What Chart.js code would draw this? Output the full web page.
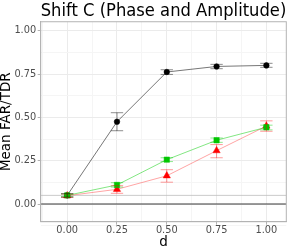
<!DOCTYPE html>
<html>
<head>
<meta charset="utf-8">
<script src="https://cdn.jsdelivr.net/npm/chart.js@4.4.0/dist/chart.umd.min.js"></script>
<style>
  html, body { margin: 0; padding: 0; background: #fff; }
</style>
</head>
<body>
<canvas id="myChart" width="291" height="251"></canvas>
<script>
// values
const dValues = [0, 0.25, 0.5, 0.75, 1];

const blackMean = [0.05, 0.475, 0.762, 0.794, 0.80];
const blackLow  = [0.04, 0.423, 0.748, 0.781, 0.789];
const blackHigh = [0.06, 0.527, 0.775, 0.806, 0.812];

const greenMean = [0.05, 0.11, 0.256, 0.368, 0.443];
const greenLow  = [0.043, 0.098, 0.245, 0.356, 0.428];
const greenHigh = [0.057, 0.123, 0.267, 0.381, 0.455];

const redMean = [0.048, 0.085, 0.163, 0.308, 0.45];
const redLow  = [0.038, 0.062, 0.126, 0.267, 0.42];
const redHigh = [0.058, 0.106, 0.198, 0.343, 0.48];

const xTicks = [0, 0.25, 0.5, 0.75, 1];
const xMinor = [-0.125, 0.125, 0.375, 0.625, 0.875];
const yTicks = [0, 0.25, 0.5, 0.75, 1];
const yMinor = [-0.125, 0.125, 0.375, 0.625, 0.875];

const refLines = [0, 0.05];

const X_MIN = -0.133, X_MAX = 1.1;
const Y_MIN = -0.102, Y_MAX = 1.052;

const FONT = "'DejaVu Sans', Verdana, sans-serif";

const toPoints = (ys) => dValues.map((x, i) => ({ x: x, y: ys[i] }));

const isMajor = (v, list) => list.some(t => Math.abs(t - v) < 1e-9);

// draws error bars from errLow/errHigh arrays through the chart scales
const errorBarPlugin = {
  id: 'errorBars',
  afterDatasetsDraw(chart) {
    const ctx = chart.ctx;
    const xs = chart.scales.x, ys = chart.scales.y;
    chart.data.datasets.forEach(ds => {
      if (!ds.errLow) return;
      ctx.save();
      ctx.strokeStyle = ds.errColor;
      ctx.lineWidth = 1;
      dValues.forEach((d, i) => {
        const px = xs.getPixelForValue(d);
        const x0 = xs.getPixelForValue(d - 0.031);
        const x1 = xs.getPixelForValue(d + 0.031);
        const lo = ys.getPixelForValue(ds.errLow[i]);
        const hi = ys.getPixelForValue(ds.errHigh[i]);
        ctx.beginPath();
        ctx.moveTo(px, lo); ctx.lineTo(px, hi);
        ctx.moveTo(x0, lo); ctx.lineTo(x1, lo);
        ctx.moveTo(x0, hi); ctx.lineTo(x1, hi);
        ctx.stroke();
      });
      ctx.restore();
    });
  }
};

const panelBorder = {
  id: 'panelBorder',
  afterDraw(chart) {
    const a = chart.chartArea;
    const ctx = chart.ctx;
    ctx.save();
    ctx.strokeStyle = '#b3b3b3';
    ctx.lineWidth = 1;
    ctx.strokeRect(a.left, a.top, a.right - a.left, a.bottom - a.top);
    ctx.restore();
  }
};

const seriesStyle = (color, lineColor, errColor, shape, radius) => ({
  borderColor: lineColor,
  borderWidth: 0.9,
  pointStyle: shape,
  pointRadius: radius,
  pointBackgroundColor: color,
  pointBorderColor: color,
  pointBorderWidth: 0.5,
  errColor: errColor,
  tension: 0
});

new Chart(document.getElementById('myChart').getContext('2d'), {
  type: 'line',
  data: {
    datasets: [
      Object.assign({ label: 'green', data: toPoints(greenMean), errLow: greenLow, errHigh: greenHigh },
        seriesStyle('#00c400', 'rgba(0,205,0,0.55)', 'rgba(0,205,0,0.45)', 'rect', 3.8)),
      Object.assign({ label: 'red', data: toPoints(redMean), errLow: redLow, errHigh: redHigh },
        seriesStyle('#ff0000', 'rgba(255,0,0,0.4)', 'rgba(255,0,0,0.4)', 'triangle', 4.2)),
      Object.assign({ label: 'black', data: toPoints(blackMean), errLow: blackLow, errHigh: blackHigh },
        seriesStyle('#000000', 'rgba(0,0,0,0.6)', 'rgba(0,0,0,0.45)', 'circle', 2.8)),
      {
        label: 'zero', data: [{ x: X_MIN, y: refLines[0] }, { x: X_MAX, y: refLines[0] }],
        borderColor: '#3a3a3a', borderWidth: 1.1, pointRadius: 0
      },
      {
        label: 'level', data: [{ x: X_MIN, y: refLines[1] }, { x: X_MAX, y: refLines[1] }],
        borderColor: '#bdbdbd', borderWidth: 0.8, pointRadius: 0
      }
    ]
  },
  options: {
    responsive: false,
    animation: false,
    layout: { padding: { left: 0, right: 3.3, top: 0, bottom: 0 } },
    plugins: {
      legend: { display: false },
      tooltip: { enabled: false },
      title: {
        display: true,
        fullSize: false,
        text: 'Shift C (Phase and Amplitude)',
        color: '#000',
        font: { family: FONT, size: 17.7, weight: 'normal', lineHeight: 1.2 },
        padding: { top: 0.3, bottom: 0.2 }
      }
    },
    scales: {
      x: {
        type: 'linear',
        min: X_MIN,
        max: X_MAX,
        afterBuildTicks: (axis) => {
          axis.ticks = xTicks.concat(xMinor).sort((a, b) => a - b).map(v => ({ value: v }));
        },
        afterFit: (scale) => { scale.height = 29.3; },
        ticks: {
          autoSkip: false,
          maxRotation: 0,
          padding: 0,
          color: '#4d4d4d',
          font: { family: FONT, size: 9.8 },
          callback: (v) => isMajor(v, xTicks) ? v.toFixed(2) : ''
        },
        grid: {
          color: (c) => isMajor(c.tick.value, xTicks) ? '#ebebeb' : '#f5f5f5',
          tickColor: (c) => isMajor(c.tick.value, xTicks) ? '#b3b3b3' : 'rgba(0,0,0,0)',
          tickLength: 3,
          lineWidth: 1
        },
        border: { display: true, color: '#b3b3b3' },
        title: {
          display: true,
          text: 'd',
          color: '#000',
          font: { family: FONT, size: 13.5, lineHeight: 1.2 },
          padding: { top: 0, bottom: 0.5 }
        }
      },
      y: {
        type: 'linear',
        min: Y_MIN,
        max: Y_MAX,
        afterBuildTicks: (axis) => {
          axis.ticks = yTicks.concat(yMinor).sort((a, b) => a - b).map(v => ({ value: v }));
        },
        afterFit: (scale) => { scale.width = 40.7; },
        ticks: {
          autoSkip: false,
          padding: 1.5,
          color: '#4d4d4d',
          font: { family: FONT, size: 9.8 },
          callback: (v) => isMajor(v, yTicks) ? v.toFixed(2) : ''
        },
        grid: {
          color: (c) => isMajor(c.tick.value, yTicks) ? '#ebebeb' : '#f5f5f5',
          tickColor: (c) => isMajor(c.tick.value, yTicks) ? '#b3b3b3' : 'rgba(0,0,0,0)',
          tickLength: 3,
          lineWidth: 1
        },
        border: { display: true, color: '#b3b3b3' },
        title: {
          display: true,
          text: 'Mean FAR/TDR',
          color: '#000',
          font: { family: FONT, size: 13.5, lineHeight: 1.0 },
          padding: { top: 0, bottom: 0 }
        }
      }
    }
  },
  plugins: [errorBarPlugin, panelBorder]
});
</script>
</body>
</html>
